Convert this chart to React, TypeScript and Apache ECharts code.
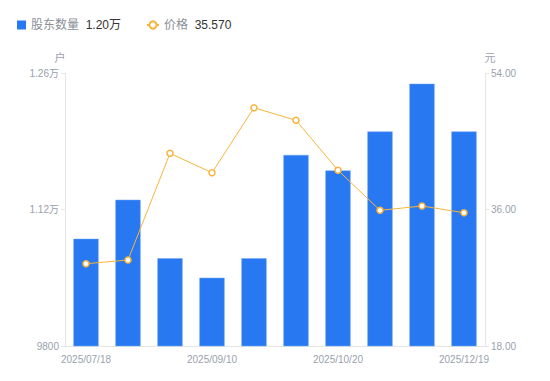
import React, { useEffect, useRef } from "react";
import * as echarts from "echarts";

const dates = [
  "2025/07/18", "2025/07/31", "2025/08/20", "2025/09/10", "2025/09/19",
  "2025/09/30", "2025/10/20", "2025/10/31", "2025/11/20", "2025/12/19",
];
const holders = [10900, 11300, 10700, 10500, 10700, 11760, 11600, 12000, 12490, 12000];
const prices = [28.85, 29.34, 43.41, 40.85, 49.42, 47.76, 41.17, 35.89, 36.46, 35.57];
const leftTicks = { min: 9800, max: 12600, interval: 1400 };
const rightTicks = { min: 18, max: 54, interval: 18 };

const fmtHolder = (v: number) => (v >= 10000 ? (v / 10000).toFixed(2) + "万" : String(v));

export default function App() {
  const ref = useRef<HTMLDivElement>(null);
  useEffect(() => {
    document.body.style.margin = "0";
    const chart = echarts.init(ref.current!, null, { renderer: "svg" });
    const lastH = holders[holders.length - 1];
    const lastP = prices[prices.length - 1];
    const font = "'Liberation Sans', 'Noto Sans CJK SC', sans-serif";
    const legendText = {
      rich: {
        a: { color: "#8a8f99", fontSize: 12, fontFamily: font },
        b: { color: "#333333", fontSize: 12, fontFamily: font },
      },
    };
    chart.setOption({
      animation: false,
      textStyle: { fontFamily: font },
      legend: [
        {
          left: 12,
          top: 14,
          itemWidth: 9,
          itemHeight: 9,
          data: [{ name: "股东数量", icon: "rect" }],
          itemStyle: { borderWidth: 0 },
          formatter: (name: string) => `{a|${name}}  {b|${fmtHolder(lastH)}}`,
          textStyle: legendText,
        },
        {
          left: 141,
          top: 14,
          itemWidth: 12,
          itemHeight: 9,
          data: [{ name: "价格" }],
          formatter: (name: string) => `{a|${name}}  {b|${lastP.toFixed(3)}}`,
          textStyle: legendText,
        },
      ],
      grid: { left: 65, right: 65, top: 73, bottom: 35 },
      xAxis: {
        type: "category",
        data: dates,
        axisLine: { lineStyle: { color: "#e6e6e6" } },
        axisTick: { show: false },
        axisLabel: { color: "#9a9fae", fontSize: 10, interval: 2, margin: 8 },
      },
      yAxis: [
        {
          type: "value",
          name: "户",
          nameGap: 10,
          nameTextStyle: { color: "#9a9fae", fontSize: 11, padding: [0, 10, 0, 0] },
          min: leftTicks.min,
          max: leftTicks.max,
          interval: leftTicks.interval,
          axisLine: { show: true, lineStyle: { color: "#e6e6e6" } },
          axisTick: { show: true, length: 4, lineStyle: { color: "#e6e6e6" } },
          splitLine: { show: false },
          axisLabel: { color: "#9a9fae", fontSize: 10, margin: 6, formatter: fmtHolder },
        },
        {
          type: "value",
          name: "元",
          nameGap: 10,
          nameTextStyle: { color: "#9a9fae", fontSize: 11, padding: [0, 0, 0, 10] },
          min: rightTicks.min,
          max: rightTicks.max,
          interval: rightTicks.interval,
          axisLine: { show: true, lineStyle: { color: "#e6e6e6" } },
          axisTick: { show: true, length: 4, lineStyle: { color: "#e6e6e6" } },
          splitLine: { show: false },
          axisLabel: {
            color: "#9a9fae",
            fontSize: 10,
            margin: 6,
            formatter: (v: number) => v.toFixed(2),
          },
        },
      ],
      series: [
        {
          name: "股东数量",
          type: "bar",
          data: holders,
          barWidth: "60%",
          itemStyle: { color: "#2878f2", borderColor: "#6fa4f6", borderWidth: 0.5 },
        },
        {
          name: "价格",
          type: "line",
          yAxisIndex: 1,
          data: prices,
          symbol: "circle",
          symbolSize: 6,
          lineStyle: { color: "#f8b43a", width: 1 },
          itemStyle: { color: "#ffffff", borderColor: "#f8b43a", borderWidth: 1.5 },
        },
      ],
    });
    return () => chart.dispose();
  }, []);
  return <div ref={ref} style={{ width: 550, height: 381 }} />;
}
